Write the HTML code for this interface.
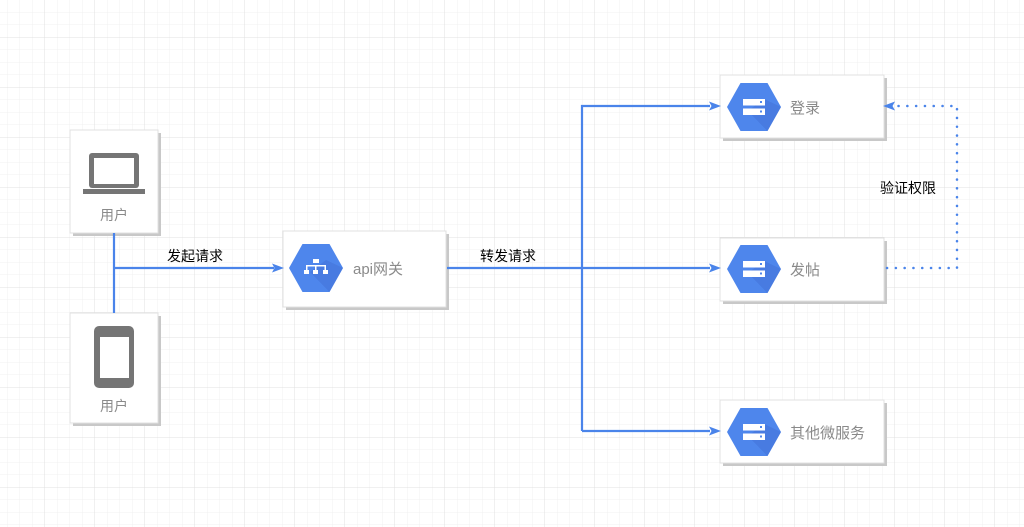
<!DOCTYPE html>
<html><head><meta charset="utf-8"><style>
html,body{margin:0;padding:0;background:#fff}
svg{display:block}
text{font-family:"Liberation Sans","Noto Sans CJK SC",sans-serif}
</style></head><body>
<svg width="1024" height="527" viewBox="0 0 1024 527" xmlns="http://www.w3.org/2000/svg">
<defs>
<pattern id="minor" x="7.5" y="0" width="12.5" height="12.5" patternUnits="userSpaceOnUse">
<path d="M12.5 0V12.5M0 12.5H12.5" stroke="#f0f0f0" stroke-width="1" fill="none"/>
</pattern>
<pattern id="major" x="-5" y="-12.5" width="50" height="50" patternUnits="userSpaceOnUse">
<path d="M50 0V50M0 50H50" stroke="#e0e0e0" stroke-width="1" fill="none"/>
</pattern>
<g id="hex">
<polygon points="-27,0 -13.5,-24 13.5,-24 27,0 13.5,24 -13.5,24" fill="#4e86ec"/>
<polygon points="-6,4 13.5,24 13.5,24 27,0 10,-8" fill="#4170d6" opacity="0.5"/>
</g>
<g id="srv">
<rect x="-11" y="-8" width="22" height="6.5" fill="#fff"/>
<rect x="-11" y="1.5" width="22" height="6.5" fill="#fff"/>
<rect x="6" y="-6" width="2" height="2" fill="#4e86ec"/>
<rect x="6" y="3.5" width="2" height="2" fill="#4e86ec"/>
</g>
</defs>
<rect width="1024" height="527" fill="url(#minor)"/>
<rect width="1024" height="527" fill="url(#major)"/>

<rect x="73" y="133" width="88" height="103" fill="#c8c8c8"/>
<rect x="70" y="130" width="88" height="103" fill="#fff" stroke="#e0e0e0"/>
<rect x="89" y="153" width="50" height="35" rx="3" fill="#757575"/>
<rect x="94" y="158" width="40" height="26" fill="#fff"/>
<rect x="83" y="189" width="62" height="5" fill="#757575"/>
<text x="114" y="220" font-size="14" fill="#8a8a8a" text-anchor="middle">用户</text>

<rect x="73" y="316" width="88" height="110" fill="#c8c8c8"/>
<rect x="70" y="313" width="88" height="110" fill="#fff" stroke="#e0e0e0"/>
<rect x="94" y="326" width="40" height="62" rx="5" fill="#757575"/>
<rect x="100" y="337" width="29" height="41" fill="#fff"/>
<text x="114" y="411" font-size="14" fill="#8a8a8a" text-anchor="middle">用户</text>

<rect x="286" y="234" width="163" height="76" fill="#c8c8c8"/>
<rect x="283" y="231" width="163" height="76" fill="#fff" stroke="#e0e0e0"/>
<use href="#hex" x="316" y="268"/>
<g fill="#fff">
<rect x="313" y="259" width="6" height="4"/>
<rect x="306" y="265" width="20" height="1.5"/>
<rect x="306" y="265" width="1.5" height="5"/><rect x="315" y="265" width="1.5" height="5"/><rect x="324.5" y="265" width="1.5" height="5"/>
<rect x="304" y="270" width="5" height="4"/><rect x="313" y="270" width="5" height="4"/><rect x="323" y="270" width="5" height="4"/>
</g>
<text x="353" y="274" font-size="15" fill="#8a8a8a">api网关</text>

<g>
<rect x="723" y="78" width="164" height="63" fill="#c8c8c8"/>
<rect x="720" y="75" width="164" height="63" fill="#fff" stroke="#e0e0e0"/>
<use href="#hex" x="754" y="107"/><use href="#srv" x="754" y="107"/>
<text x="790" y="113" font-size="15" fill="#8a8a8a">登录</text>
</g>
<g>
<rect x="723" y="241" width="164" height="63" fill="#c8c8c8"/>
<rect x="720" y="238" width="164" height="63" fill="#fff" stroke="#e0e0e0"/>
<use href="#hex" x="754" y="269"/><use href="#srv" x="754" y="269"/>
<text x="790" y="275" font-size="15" fill="#8a8a8a">发帖</text>
</g>
<g>
<rect x="723" y="403" width="164" height="63" fill="#c8c8c8"/>
<rect x="720" y="400" width="164" height="63" fill="#fff" stroke="#e0e0e0"/>
<use href="#hex" x="754" y="432"/><use href="#srv" x="754" y="432"/>
<text x="790" y="438" font-size="15" fill="#8a8a8a">其他微服务</text>
</g>

<g stroke="#4a84ea" stroke-width="2.2" fill="none">
<path d="M114 233V313"/>
<path d="M114 268H274"/>
<path d="M447 268H710"/>
<path d="M582 268V431"/>
<path d="M582 268V106H710"/>
<path d="M582 431H710"/>
</g>
<path d="M887 268H957V106H894" stroke="#4a84ea" stroke-width="2.5" fill="none" stroke-dasharray="0.1 8.7" stroke-linecap="round"/>
<g fill="#4a84ea">
<polygon points="284,268 272,263.5 274.5,268 272,272.5"/>
<polygon points="721,106 709,101.5 711.5,106 709,110.5"/>
<polygon points="721,268 709,263.5 711.5,268 709,272.5"/>
<polygon points="721,431 709,426.5 711.5,431 709,435.5"/>
<polygon points="883,106 895,101.5 892.5,106 895,110.5"/>
</g>

<text x="195" y="261" font-size="14" fill="#000" text-anchor="middle">发起请求</text>
<text x="508" y="261" font-size="14" fill="#000" text-anchor="middle">转发请求</text>
<text x="908" y="193" font-size="14" fill="#000" text-anchor="middle">验证权限</text>
</svg>
</body></html>
